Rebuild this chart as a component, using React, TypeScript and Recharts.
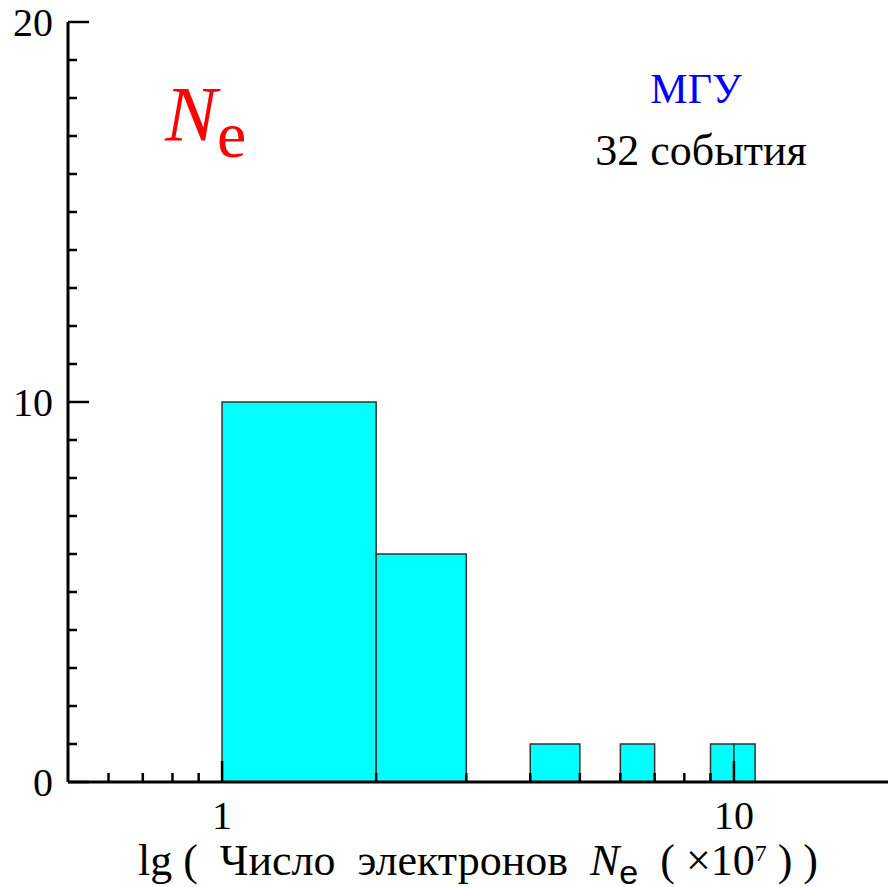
import { ComposedChart, ReferenceArea, XAxis, YAxis } from 'recharts'

// histogram bins: lower / upper edge (x10^7 electrons) and number of events
const binLow = [1, 2, 4, 6, 9, 10]
const binHigh = [2, 3, 5, 7, 10, 11]
const binCount = [10, 6, 1, 1, 1, 1]

const xTicks = [0.6, 0.7, 0.8, 0.9, 1, 2, 3, 4, 5, 6, 7, 8, 9, 10]
const xLabels = [1, 10]
const yTicks = [0, 1, 2, 3, 4, 5, 6, 7, 8, 9, 10, 11, 12, 13, 14, 15, 16, 17, 18, 19, 20]
const yLabels = [0, 10, 20]

const SERIF = '"Liberation Serif", "Times New Roman", serif'
const SANS = '"Liberation Sans", Arial, sans-serif'

const bins = binLow.map((lo, i) => ({ lo, hi: binHigh[i], count: binCount[i] }))

// ticks point into the plot; only decades carry a label
function XTick(props: any) {
  const { x, y, payload } = props
  const major = xLabels.includes(payload.value)
  return (
    <g>
      <line x1={x} y1={y} x2={x} y2={y - (major ? 21 : 9)} stroke="#000" strokeWidth={2.5} />
      {major && (
        <text x={x} y={y + 47} textAnchor="middle" style={{ fontFamily: SERIF }} fontSize={40} fill="#000">
          {payload.value}
        </text>
      )}
    </g>
  )
}

function YTick(props: any) {
  const { x, y, payload } = props
  const major = yLabels.includes(payload.value)
  return (
    <g>
      <line x1={x} y1={y} x2={x + (major ? 21 : 9)} y2={y} stroke="#000" strokeWidth={2.5} />
      {major && (
        <text x={x - 15} y={y + 14} textAnchor="end" style={{ fontFamily: SERIF }} fontSize={40} fill="#000">
          {payload.value}
        </text>
      )}
    </g>
  )
}

function XTitle(props: any) {
  const { viewBox } = props
  const cx = viewBox.x + viewBox.width / 2
  return (
    <text
      x={cx}
      y={viewBox.y + 93}
      textAnchor="middle"
      fontSize={44}
      fill="#000"
      style={{ whiteSpace: 'pre', fontFamily: SERIF }}
    >
      <tspan>{'lg (  Число  электронов  '}</tspan>
      <tspan fontStyle="italic">N</tspan>
      <tspan style={{ fontFamily: SANS }} fontSize={34} dy={9}>e</tspan>
      <tspan dy={-9}>{'  ( ×10'}</tspan>
      <tspan fontSize={24} dy={-14}>7</tspan>
      <tspan dy={14}>{' ) )'}</tspan>
    </text>
  )
}

export default function App() {
  return (
    <div style={{ position: 'absolute', left: 0, top: 0, width: 888, height: 887, background: '#fff' }}>
      <ComposedChart width={888} height={887} margin={{ top: 22, right: 0, bottom: 0, left: 0 }}>
        <XAxis
          type="number"
          dataKey="lo"
          scale="log"
          domain={[0.5, 20]}
          ticks={xTicks}
          interval={0}
          allowDataOverflow
          height={105}
          tickSize={0}
          tickMargin={0}
          tickLine={false}
          tick={<XTick />}
          axisLine={{ stroke: '#000', strokeWidth: 3 }}
          label={<XTitle />}
        />
        <YAxis
          type="number"
          domain={[0, 20]}
          ticks={yTicks}
          interval={0}
          allowDataOverflow
          width={68}
          tickSize={0}
          tickMargin={0}
          tickLine={false}
          tick={<YTick />}
          axisLine={{ stroke: '#000', strokeWidth: 3 }}
        />
        {bins.map((b) => (
          <ReferenceArea
            key={b.lo}
            x1={b.lo}
            x2={b.hi}
            y1={0}
            y2={b.count}
            fill="#00ffff"
            fillOpacity={1}
            stroke="#333"
            strokeWidth={1.5}
          />
        ))}
      </ComposedChart>
      <svg width={888} height={887} style={{ position: 'absolute', left: 0, top: 0, pointerEvents: 'none' }}>
        <text x={165} y={140} fill="#ff0000" style={{ fontFamily: SERIF }}>
          <tspan fontStyle="italic" fontSize={78}>N</tspan>
          <tspan fontSize={66} dy={17}>e</tspan>
        </text>
        <text x={696} y={103} textAnchor="middle" fill="#0000ff" style={{ fontFamily: SERIF }} fontSize={42}>
          МГУ
        </text>
        <text x={701} y={165} textAnchor="middle" fill="#000" style={{ fontFamily: SERIF }} fontSize={44}>
          32 события
        </text>
      </svg>
    </div>
  )
}
